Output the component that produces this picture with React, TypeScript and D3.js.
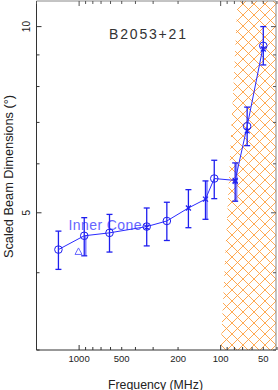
import React from "react";
import * as d3 from "d3";

// ---- data ----
const freqs = [1400, 920, 610, 333, 240, 169, 128, 111, 79, 65, 50];
const values = [4.36, 4.59, 4.64, 4.75, 4.85, 5.09, 5.26, 5.68, 5.64, 6.9, 9.31];
const errLow = [4.05, 4.26, 4.32, 4.42, 4.51, 4.73, 4.88, 5.27, 5.22, 6.42, 8.67];
const errHigh = [4.67, 4.91, 4.97, 5.09, 5.2, 5.45, 5.63, 6.08, 6.02, 7.41, 10.0];
const markerKind = ["o", "o", "o", "o", "o", "x", "x", "o", "x", "o", "o"];

const starFreqs = [333, 79, 65, 50];
const starValues = [4.74, 5.62, 6.78, 9.2];

const lightFreqs = [920, 128, 79];
const lightLow = [4.26, 4.88, 5.22];
const lightHigh = [4.59, 5.63, 6.02];

const triFreq = [1010];
const triValue = [4.33];

const hatchFreqBottom = 100;
const hatchFreqTop = 76;

const xTickLabels = [1000, 500, 200, 100, 50];
const xMinorTicks = [40, 50, 60, 70, 80, 90, 200, 300, 400, 500, 600, 700, 800, 900, 2000];
const xMajorTicks = [100, 1000];
const yTickLabels = [10, 5];
const yMinorTicks = [3, 4, 6, 7, 8, 9];
const yMajorTicks = [5, 10];

const title = "B2053+21";
const annotation = "Inner Cone";
const xTitle = "Frequency (MHz)";
const yTitle = "Scaled Beam Dimensions (°)";

export default function App() {
  const W = 278;
  const H = 390;
  const L = 36.5, R = 277, T = 1, B = 350;
  const x = d3.scaleLog().domain([2000, 40]).range([L, R]);
  const y = d3.scaleLog().domain([3, 11]).range([B, T]);
  const blue = "#1f1fef";
  const lightBlue = "#6666ff";
  const font = "'Liberation Sans', Arial, sans-serif";

  const pts = freqs.map((f, i) => ({ f, v: values[i], lo: errLow[i], hi: errHigh[i], k: markerKind[i] }));
  const line = d3.line<any>().x((d) => x(d.f)).y((d) => y(d.v));

  const hatchPoly = [
    [x(hatchFreqBottom), y(3)],
    [x(hatchFreqTop), y(11)],
    [x(40), y(11)],
    [x(40), y(3)],
  ];

  const tri = (cx: number, cy: number) =>
    `M${cx - 3.5},${cy + 3} L${cx + 3.5},${cy + 3} L${cx},${cy - 3.5} Z`;

  return (
    <svg width={W} height={H} style={{ position: "absolute", left: 0, top: 0 }}>
      <defs>
        <pattern id="hatch" patternUnits="userSpaceOnUse" width={11} height={11} x={1} y={4}>
          <path d="M-1,-1 L12,12 M12,-1 L-1,12" stroke="#ff9a33" strokeWidth={0.85} fill="none" />
        </pattern>
        <clipPath id="plotclip">
          <rect x={L} y={T} width={R - L - 1} height={B - T} />
        </clipPath>
      </defs>
      <rect x={0} y={0} width={W} height={H} fill="#fff" />
      <polygon
        points={hatchPoly.map((p) => p.join(",")).join(" ")}
        fill="url(#hatch)"
        clipPath="url(#plotclip)"
      />

      {/* axes frame */}
      <line x1={L} y1={T} x2={R - 1} y2={T} stroke="#888" strokeWidth={1} />
      <line x1={R - 1} y1={T} x2={R - 1} y2={B} stroke="#888" strokeWidth={1} />
      <line x1={L} y1={T} x2={L} y2={B} stroke="#333" strokeWidth={1} />
      <line x1={L} y1={B} x2={R - 1} y2={B} stroke="#333" strokeWidth={1} />

      {/* x ticks */}
      {xMajorTicks.map((t) => (
        <g key={"xM" + t}>
          <line x1={x(t)} x2={x(t)} y1={B} y2={B - 5} stroke="#333" />
          <line x1={x(t)} x2={x(t)} y1={T} y2={T + 5} stroke="#555" />
        </g>
      ))}
      {xMinorTicks.map((t) => (
        <g key={"xm" + t}>
          <line x1={x(t)} x2={x(t)} y1={B} y2={B - 3} stroke="#333" />
          <line x1={x(t)} x2={x(t)} y1={T} y2={T + 3} stroke="#555" />
        </g>
      ))}
      {xTickLabels.map((t) => (
        <text key={"xl" + t} x={x(t)} y={362} fontSize={9.5} fontFamily={font} textAnchor="middle" fill="#222">
          {t}
        </text>
      ))}

      {/* y ticks */}
      {yMajorTicks.map((t) => (
        <g key={"yM" + t}>
          <line x1={L} x2={L + 5} y1={y(t)} y2={y(t)} stroke="#333" />
          <line x1={R - 1} x2={R - 6} y1={y(t)} y2={y(t)} stroke="#555" />
        </g>
      ))}
      {yMinorTicks.map((t) => (
        <g key={"ym" + t}>
          <line x1={L} x2={L + 3} y1={y(t)} y2={y(t)} stroke="#333" />
          <line x1={R - 1} x2={R - 4} y1={y(t)} y2={y(t)} stroke="#555" />
        </g>
      ))}
      {yTickLabels.map((t) => (
        <text
          key={"yl" + t}
          transform={`translate(30,${y(t)}) rotate(-90)`}
          fontSize={10}
          fontFamily={font}
          textAnchor="middle"
          fill="#222"
        >
          {t}
        </text>
      ))}

      {/* axis titles */}
      <text x={155.5} y={388.5} fontSize={12.3} fontFamily={font} textAnchor="middle" fill="#222" textLength={95} lengthAdjust="spacingAndGlyphs">
        {xTitle}
      </text>
      <text
        transform={`translate(12.5,176.5) rotate(-90)`}
        fontSize={12.5}
        fontFamily={font}
        textAnchor="middle"
        fill="#222"
        textLength={163}
        lengthAdjust="spacingAndGlyphs"
      >
        {yTitle}
      </text>

      {/* title */}
      <text x={109} y={39.3} fontSize={14} fontFamily={font} fill="#333" textLength={77} lengthAdjust="spacing">
        {title}
      </text>

      {/* annotation */}
      <text x={68.5} y={229.5} fontSize={14} fontFamily={font} fill={lightBlue} textLength={73} lengthAdjust="spacing">
        {annotation}
      </text>
      {triFreq.map((f, i) => (
        <path key={"tri" + i} d={tri(x(f), y(triValue[i]))} fill="none" stroke={lightBlue} strokeWidth={1} />
      ))}

      {/* light error bars */}
      {lightFreqs.map((f, i) => (
        <g key={"lb" + i}>
          <line x1={x(f) + 1.5} x2={x(f) + 1.5} y1={y(lightLow[i])} y2={y(lightHigh[i])} stroke={lightBlue} strokeWidth={1.6} opacity={0.8} />
        </g>
      ))}

      {/* error bars */}
      {pts.map((p, i) => (
        <g key={"eb" + i} stroke={blue} strokeWidth={1.3}>
          <line x1={x(p.f)} x2={x(p.f)} y1={y(p.lo)} y2={y(p.hi)} />
          <line x1={x(p.f) - 3} x2={x(p.f) + 3} y1={y(p.lo)} y2={y(p.lo)} />
          <line x1={x(p.f) - 3} x2={x(p.f) + 3} y1={y(p.hi)} y2={y(p.hi)} />
        </g>
      ))}

      {/* connecting line */}
      <path d={line(pts) || ""} fill="none" stroke="#2a2aff" strokeWidth={1} />

      {/* markers */}
      {pts.map((p, i) =>
        p.k === "o" ? (
          <circle key={"m" + i} cx={x(p.f)} cy={y(p.v)} r={3.8} fill="none" stroke={blue} strokeWidth={1} />
        ) : (
          <path
            key={"m" + i}
            d={`M${x(p.f) - 2.5},${y(p.v) - 2.5} L${x(p.f) + 2.5},${y(p.v) + 2.5} M${x(p.f) + 2.5},${y(p.v) - 2.5} L${x(p.f) - 2.5},${y(p.v) + 2.5}`}
            stroke={blue}
            strokeWidth={1.2}
          />
        )
      )}
      {starFreqs.map((f, i) => (
        <path
          key={"s" + i}
          d={`M${x(f) - 2.5},${y(starValues[i]) - 2.5} L${x(f) + 2.5},${y(starValues[i]) + 2.5} M${x(f) + 2.5},${y(starValues[i]) - 2.5} L${x(f) - 2.5},${y(starValues[i]) + 2.5} M${x(f)},${y(starValues[i]) - 3} L${x(f)},${y(starValues[i]) + 3}`}
          stroke={blue}
          strokeWidth={1.1}
        />
      ))}
    </svg>
  );
}
